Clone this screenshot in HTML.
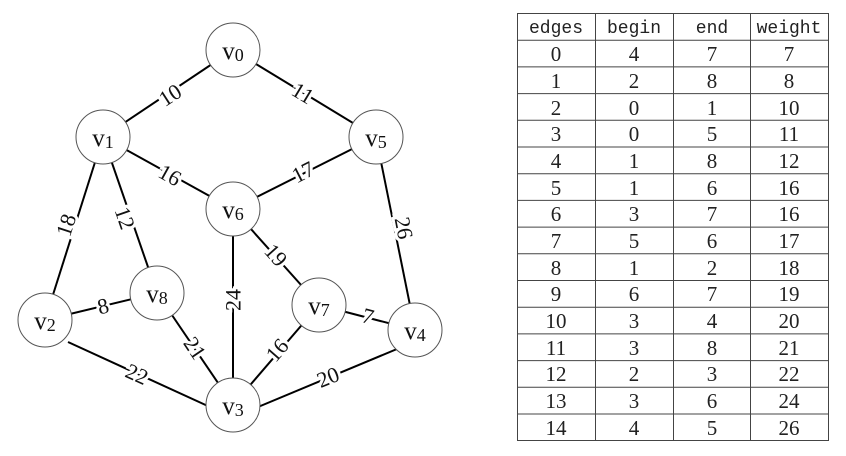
<!DOCTYPE html>
<html><head><meta charset="utf-8"><style>
html,body{margin:0;padding:0;background:#fff;}
svg{display:block;}
.n{fill:#fff;stroke:#555;stroke-width:1;}
.e{stroke:#000;stroke-width:2;}
.l{font-family:"Liberation Serif",serif;font-size:22px;fill:#111;paint-order:stroke;stroke:#fff;stroke-width:6px;text-anchor:middle;dominant-baseline:central;}
.v{font-family:"Liberation Serif",serif;font-size:25px;fill:#111;text-anchor:middle;}
.v tspan.s{font-size:18px;}
.t{font-family:"Liberation Mono","Liberation Serif",serif;font-size:18px;fill:#222;text-anchor:middle;}
.d{font-family:"Liberation Serif",serif;font-size:21px;fill:#222;text-anchor:middle;}
</style></head><body>
<svg width="846" height="456" viewBox="0 0 846 456" xmlns="http://www.w3.org/2000/svg">
<g>
<line class="e" x1="233" y1="50" x2="103" y2="137"/>
<line class="e" x1="233" y1="50" x2="376" y2="137"/>
<line class="e" x1="103" y1="137" x2="233" y2="209"/>
<line class="e" x1="376" y1="137" x2="233" y2="209"/>
<line class="e" x1="103" y1="137" x2="45" y2="320"/>
<line class="e" x1="103" y1="137" x2="157" y2="293"/>
<line class="e" x1="376" y1="137" x2="415" y2="330"/>
<line class="e" x1="233" y1="209" x2="233" y2="405"/>
<line class="e" x1="233" y1="209" x2="319" y2="305"/>
<line class="e" x1="45" y1="320" x2="157" y2="293"/>
<line class="e" x1="157" y1="293" x2="233" y2="405"/>
<line class="e" x1="319" y1="305" x2="415" y2="330"/>
<line class="e" x1="319" y1="305" x2="233" y2="405"/>
<line class="e" x1="68" y1="342" x2="210" y2="407"/>
<line class="e" x1="397" y1="349" x2="258" y2="407"/>
</g>
<g>
<text class="l" transform="translate(170,95) rotate(-33)">10</text>
<text class="l" transform="translate(303,93) rotate(31)">11</text>
<text class="l" transform="translate(170,175) rotate(29)">16</text>
<text class="l" transform="translate(303,172) rotate(-27)">17</text>
<text class="l" transform="translate(66,225) rotate(-72)">18</text>
<text class="l" transform="translate(125,218) rotate(71)">12</text>
<text class="l" transform="translate(404,228) rotate(79)">26</text>
<text class="l" transform="translate(276,255) rotate(48)">19</text>
<text class="l" transform="translate(233,300) rotate(-90)">24</text>
<text class="l" transform="translate(103,306) rotate(-14)">8</text>
<text class="l" transform="translate(195,348) rotate(56)">21</text>
<text class="l" transform="translate(277,350) rotate(-49)">16</text>
<text class="l" transform="translate(368,316) rotate(15)">7</text>
<text class="l" transform="translate(137,374) rotate(24)">22</text>
<text class="l" transform="translate(328,377) rotate(-22)">20</text>
</g>
<g>
<circle class="n" cx="233" cy="50" r="27"/><text class="v" x="233" y="59">v<tspan class="s" dy="2">0</tspan></text>
<circle class="n" cx="103" cy="137" r="27"/><text class="v" x="103" y="146">v<tspan class="s" dy="2">1</tspan></text>
<circle class="n" cx="376" cy="137" r="27"/><text class="v" x="376" y="146">v<tspan class="s" dy="2">5</tspan></text>
<circle class="n" cx="233" cy="209" r="27"/><text class="v" x="233" y="218">v<tspan class="s" dy="2">6</tspan></text>
<circle class="n" cx="157" cy="293" r="27"/><text class="v" x="157" y="302">v<tspan class="s" dy="2">8</tspan></text>
<circle class="n" cx="45" cy="320" r="27"/><text class="v" x="45" y="329">v<tspan class="s" dy="2">2</tspan></text>
<circle class="n" cx="319" cy="305" r="27"/><text class="v" x="319" y="314">v<tspan class="s" dy="2">7</tspan></text>
<circle class="n" cx="415" cy="330" r="27"/><text class="v" x="415" y="339">v<tspan class="s" dy="2">4</tspan></text>
<circle class="n" cx="233" cy="405" r="27"/><text class="v" x="233" y="414">v<tspan class="s" dy="2">3</tspan></text>
</g>
<g stroke="#444" stroke-width="1" fill="none">
<rect x="517.5" y="13.5" width="311" height="427"/>
<line x1="595.5" y1="13" x2="595.5" y2="441"/>
<line x1="673.5" y1="13" x2="673.5" y2="441"/>
<line x1="750.5" y1="13" x2="750.5" y2="441"/>
<line x1="517" y1="40.2" x2="829" y2="40.2"/>
<line x1="517" y1="66.9" x2="829" y2="66.9"/>
<line x1="517" y1="93.6" x2="829" y2="93.6"/>
<line x1="517" y1="120.3" x2="829" y2="120.3"/>
<line x1="517" y1="147" x2="829" y2="147"/>
<line x1="517" y1="173.7" x2="829" y2="173.7"/>
<line x1="517" y1="200.4" x2="829" y2="200.4"/>
<line x1="517" y1="227.1" x2="829" y2="227.1"/>
<line x1="517" y1="253.8" x2="829" y2="253.8"/>
<line x1="517" y1="280.5" x2="829" y2="280.5"/>
<line x1="517" y1="307.2" x2="829" y2="307.2"/>
<line x1="517" y1="333.9" x2="829" y2="333.9"/>
<line x1="517" y1="360.6" x2="829" y2="360.6"/>
<line x1="517" y1="387.3" x2="829" y2="387.3"/>
<line x1="517" y1="414" x2="829" y2="414"/>
</g>
<g>
<text class="t" x="556" y="33">edges</text><text class="t" x="634" y="33">begin</text><text class="t" x="712" y="33">end</text><text class="t" x="789" y="33">weight</text>
</g>
<g class="rows">
<text class="d" x="556" y="61">0</text><text class="d" x="634" y="61">4</text><text class="d" x="712" y="61">7</text><text class="d" x="789" y="61">7</text>
<text class="d" x="556" y="88">1</text><text class="d" x="634" y="88">2</text><text class="d" x="712" y="88">8</text><text class="d" x="789" y="88">8</text>
<text class="d" x="556" y="115">2</text><text class="d" x="634" y="115">0</text><text class="d" x="712" y="115">1</text><text class="d" x="789" y="115">10</text>
<text class="d" x="556" y="141">3</text><text class="d" x="634" y="141">0</text><text class="d" x="712" y="141">5</text><text class="d" x="789" y="141">11</text>
<text class="d" x="556" y="168">4</text><text class="d" x="634" y="168">1</text><text class="d" x="712" y="168">8</text><text class="d" x="789" y="168">12</text>
<text class="d" x="556" y="195">5</text><text class="d" x="634" y="195">1</text><text class="d" x="712" y="195">6</text><text class="d" x="789" y="195">16</text>
<text class="d" x="556" y="221">6</text><text class="d" x="634" y="221">3</text><text class="d" x="712" y="221">7</text><text class="d" x="789" y="221">16</text>
<text class="d" x="556" y="248">7</text><text class="d" x="634" y="248">5</text><text class="d" x="712" y="248">6</text><text class="d" x="789" y="248">17</text>
<text class="d" x="556" y="275">8</text><text class="d" x="634" y="275">1</text><text class="d" x="712" y="275">2</text><text class="d" x="789" y="275">18</text>
<text class="d" x="556" y="301">9</text><text class="d" x="634" y="301">6</text><text class="d" x="712" y="301">7</text><text class="d" x="789" y="301">19</text>
<text class="d" x="556" y="328">10</text><text class="d" x="634" y="328">3</text><text class="d" x="712" y="328">4</text><text class="d" x="789" y="328">20</text>
<text class="d" x="556" y="355">11</text><text class="d" x="634" y="355">3</text><text class="d" x="712" y="355">8</text><text class="d" x="789" y="355">21</text>
<text class="d" x="556" y="381">12</text><text class="d" x="634" y="381">2</text><text class="d" x="712" y="381">3</text><text class="d" x="789" y="381">22</text>
<text class="d" x="556" y="408">13</text><text class="d" x="634" y="408">3</text><text class="d" x="712" y="408">6</text><text class="d" x="789" y="408">24</text>
<text class="d" x="556" y="435">14</text><text class="d" x="634" y="435">4</text><text class="d" x="712" y="435">5</text><text class="d" x="789" y="435">26</text>
</g>
</svg>
</body></html>
